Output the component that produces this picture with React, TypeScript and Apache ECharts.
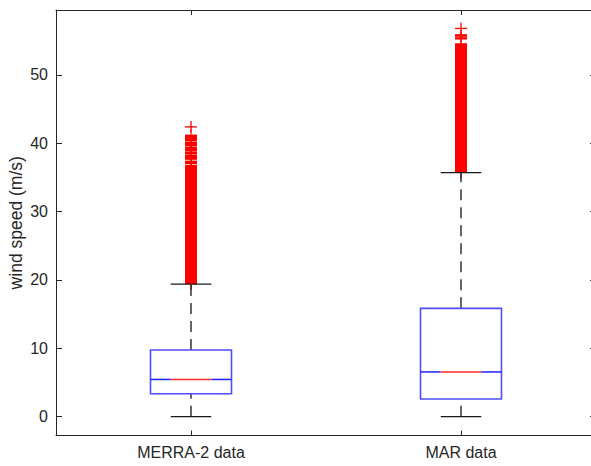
import { useEffect, useRef } from 'react';
import * as echarts from 'echarts';

// ---- data ----
const categories = ['MERRA-2 data', 'MAR data'];
const whiskerLow = [0, 0];
const quartile1 = [3.35, 2.6];
const medians = [5.45, 6.55];
const quartile3 = [9.75, 15.85];
const whiskerHigh = [19.4, 35.7];
// outliers so dense that their markers merge into solid runs: [low, high]
const merraOutlierRuns = [
  [19.45, 36.75], [37.0, 37.4], [37.65, 38.3], [38.5, 38.75],
  [38.95, 39.4], [39.6, 40.15], [40.35, 41.2],
];
const marOutlierRuns = [[35.75, 54.55], [55.25, 55.45], [55.65, 55.9]];
// isolated outliers
const merraOutliers = [42.4];
const marOutliers = [56.8];
const yTickLabels = [0, 10, 20, 30, 40, 50];

const FONT = '"Liberation Sans", Arial, Helvetica, sans-serif';
const TEXT = '#262626';

export default function App() {
  const ref = useRef<HTMLDivElement>(null);
  useEffect(() => {
    const chart = echarts.init(ref.current!, null, { renderer: 'svg' });

    const boxData = categories.map((_, i) => [
      i, whiskerLow[i], quartile1[i], medians[i], quartile3[i], whiskerHigh[i],
    ]);
    const runData = [
      ...merraOutlierRuns.map((r) => [0, r[0], r[1]]),
      ...marOutlierRuns.map((r) => [1, r[0], r[1]]),
    ];
    const singleData = [
      ...merraOutliers.map((v) => [0, v]),
      ...marOutliers.map((v) => [1, v]),
    ];

    const axisLine = { show: true, onZero: false, lineStyle: { color: TEXT, width: 1 } };
    const xTick = { show: true, inside: true, alignWithLabel: true, length: 5, lineStyle: { color: TEXT } };
    const yTick = { show: true, inside: true, length: 6, lineStyle: { color: TEXT } };
    const yLabelFmt = (v: number) => (yTickLabels.includes(Math.round(v * 1000) / 1000) ? String(v) : '');

    chart.setOption({
      animation: false,
      backgroundColor: '#ffffff',
      grid: {
        left: 56, top: 10, width: 540, height: 425.5,
        containLabel: false, outerBoundsMode: 'none', show: false,
      },
      xAxis: [
        {
          type: 'category', data: categories, position: 'bottom', boundaryGap: true,
          axisLine, axisTick: xTick, splitLine: { show: false },
          axisLabel: { color: TEXT, fontSize: 16, fontFamily: FONT, margin: 9 },
        },
        {
          type: 'category', data: categories, position: 'top', boundaryGap: true,
          axisLine, axisTick: xTick, splitLine: { show: false }, axisLabel: { show: false },
        },
      ],
      yAxis: [
        {
          type: 'value', min: -2.75, max: 59.5, position: 'left', splitNumber: 5,
          axisLine, axisTick: yTick, splitLine: { show: false },
          axisLabel: {
            color: TEXT, fontSize: 16, fontFamily: FONT, margin: 8,
            showMinLabel: false, showMaxLabel: false, formatter: yLabelFmt,
          },
          name: 'wind speed (m/s)', nameLocation: 'middle', nameGap: 31, nameMoveOverlap: false,
          nameTextStyle: { color: TEXT, fontSize: 17.5, fontFamily: FONT },
        },
        {
          type: 'value', min: -2.75, max: 59.5, position: 'right', splitNumber: 5,
          axisLine, axisTick: yTick, splitLine: { show: false }, axisLabel: { show: false },
        },
      ],
      series: [
        {
          type: 'custom', name: 'outlierRuns', xAxisIndex: 0, yAxisIndex: 0, z: 2,
          data: runData,
          renderItem: (params: any, api: any) => {
            const x = api.coord([api.value(0), 0])[0];
            const yLo = api.coord([api.value(0), api.value(1)])[1];
            const yHi = api.coord([api.value(0), api.value(2)])[1];
            return {
              type: 'group',
              children: [
                {
                  type: 'rect',
                  shape: { x: x - 6, y: yHi - 0.5, width: 12, height: yLo - yHi + 1 },
                  style: { fill: '#ff0000' },
                },
                {
                  type: 'line',
                  shape: { x1: x, y1: yHi - 6, x2: x, y2: yLo + 6 },
                  style: { stroke: '#ff0000', lineWidth: 1 },
                },
              ],
            };
          },
        },
        {
          type: 'custom', name: 'outliers', xAxisIndex: 0, yAxisIndex: 0, z: 2,
          data: singleData,
          renderItem: (params: any, api: any) => {
            const p = api.coord([api.value(0), api.value(1)]);
            return {
              type: 'group',
              children: [
                { type: 'line', shape: { x1: p[0] - 6, y1: p[1], x2: p[0] + 6, y2: p[1] }, style: { stroke: '#ff0000', lineWidth: 1.3 } },
                { type: 'line', shape: { x1: p[0], y1: p[1] - 6, x2: p[0], y2: p[1] + 6 }, style: { stroke: '#ff0000', lineWidth: 1.3 } },
              ],
            };
          },
        },
        {
          type: 'custom', name: 'boxes', xAxisIndex: 0, yAxisIndex: 0, z: 3,
          data: boxData,
          encode: { x: 0, y: [1, 2, 3, 4, 5] },
          renderItem: (params: any, api: any) => {
            const c = api.value(0);
            const x = api.coord([c, 0])[0];
            const band = api.size([1, 0])[0];
            const boxW = band * 0.3;
            const capW = band * 0.15;
            const y = (k: number) => api.coord([c, api.value(k)])[1];
            const yMin = y(1), yQ1 = y(2), yMed = y(3), yQ3 = y(4), yMax = y(5);
            const black = { stroke: '#1a1a1a', lineWidth: 1.3 };
            const dashed = { stroke: '#000000', lineWidth: 1.2, lineDash: [11, 7] };
            const blueMed = { stroke: '#2020ff', lineWidth: 1.5 };
            return {
              type: 'group',
              children: [
                { type: 'line', shape: { x1: x, y1: yQ3, x2: x, y2: yMax }, style: dashed },
                { type: 'line', shape: { x1: x, y1: yMin, x2: x, y2: yQ1 }, style: dashed },
                { type: 'line', shape: { x1: x - capW / 2, y1: yMax, x2: x + capW / 2, y2: yMax }, style: black },
                { type: 'line', shape: { x1: x - capW / 2, y1: yMin, x2: x + capW / 2, y2: yMin }, style: black },
                {
                  type: 'rect',
                  shape: { x: x - boxW / 2, y: yQ3, width: boxW, height: yQ1 - yQ3 },
                  style: { fill: '#ffffff', stroke: '#4d4dff', lineWidth: 1.6 },
                },
                { type: 'line', shape: { x1: x - boxW / 2, y1: yMed, x2: x - capW / 2, y2: yMed }, style: blueMed },
                { type: 'line', shape: { x1: x + capW / 2, y1: yMed, x2: x + boxW / 2, y2: yMed }, style: blueMed },
                { type: 'line', shape: { x1: x - capW / 2, y1: yMed, x2: x + capW / 2, y2: yMed }, style: { stroke: '#ff2a2a', lineWidth: 1.5 } },
              ],
            };
          },
        },
      ],
    });
    return () => chart.dispose();
  }, []);
  return <div ref={ref} style={{ position: 'fixed', left: 0, top: 0, width: 591, height: 466 }} />;
}
